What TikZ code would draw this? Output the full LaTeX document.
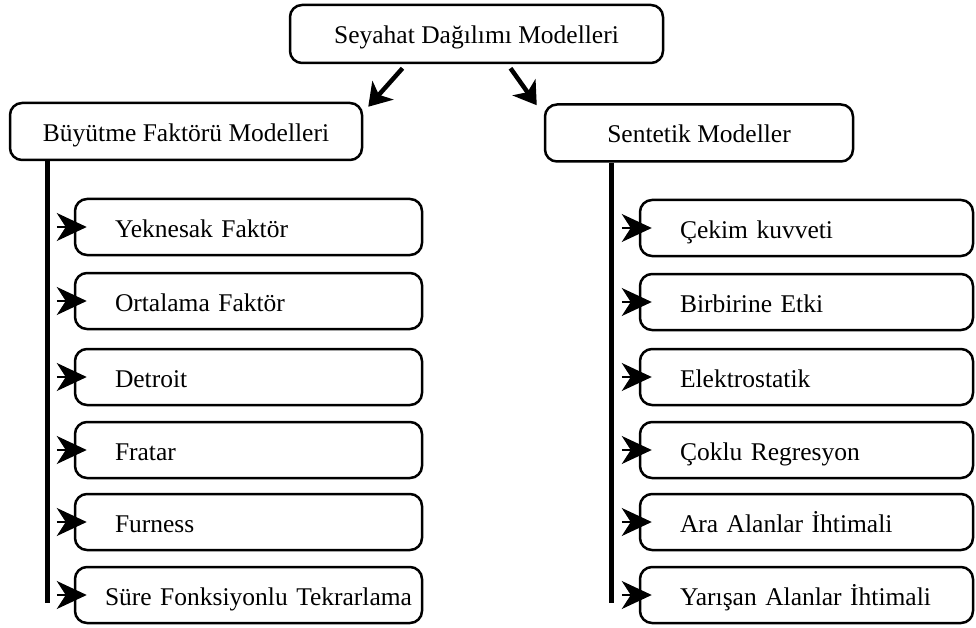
\documentclass[tikz,border=0pt]{standalone}
\usepackage{fontspec}
\setmainfont{Liberation Serif}
\usetikzlibrary{arrows.meta}

\begin{document}
\begin{tikzpicture}[x=1pt, y=-1pt,
  box/.style={draw, line width=2.5pt, rounded corners=12pt, fill=white, minimum height=56pt, text height=22pt, text depth=2pt, font=\fontsize{25.5}{30}\selectfont},
  lbox/.style={box, minimum width=347pt, text width=267pt, inner xsep=40pt, align=left},
  rbox/.style={box, minimum width=333pt, text width=253pt, inner xsep=40pt, align=left},
  trunk/.style={line width=5pt},
  tip/.style={line width=1.2pt, -{Stealth[length=30pt, width=28pt, inset=9pt]}},
  bigtip/.style={line width=4.5pt, -{Stealth[length=22pt, width=28pt, inset=6pt]}}]
\useasboundingbox (0,0) rectangle (976,628);

\node[box, minimum width=373pt, minimum height=58pt] (sdm) at (476.5,34) {Seyahat Dağılımı Modelleri};
\node[box, minimum width=352pt, minimum height=57pt] (bfm) at (186,131.5) {Büyütme Faktörü Modelleri};
\node[box, minimum width=308pt, minimum height=57pt] (sm) at (699,133) {Sentetik Modeller};

\draw[bigtip] ([xshift=-74pt,yshift=-4pt]sdm.south) -- ([xshift=5pt,yshift=-5pt]bfm.north east);
\draw[bigtip] ([xshift=34pt,yshift=-4pt]sdm.south) -- ([xshift=-7pt,yshift=-2pt]sm.north west);

\coordinate (lend) at (47,603);
\coordinate (rend) at (611,603);
\draw[trunk] (bfm.south -| lend) -- (lend);
\draw[trunk] (sm.south -| rend) -- (rend);

\node[lbox] (yf) at (248.5,227) {Yeknesak Faktör};
\node[lbox] (of) at (248.5,301) {Ortalama Faktör};
\node[lbox] (dt) at (248.5,377) {Detroit};
\node[lbox] (fr) at (248.5,450) {Fratar};
\node[lbox] (fu) at (248.5,522) {Furness};
\node[lbox, text width=327pt, inner xsep=10pt, align=right] (sf) at (248.5,595) {Süre Fonksiyonlu Tekrarlama};

\node[rbox] (ck) at (806.5,228) {Çekim kuvveti};
\node[rbox] (be) at (806.5,302) {Birbirine Etki};
\node[rbox] (el) at (806.5,377) {Elektrostatik};
\node[rbox] (cr) at (806.5,450) {Çoklu Regresyon};
\node[rbox] (aa) at (806.5,522) {Ara Alanlar İhtimali};
\node[rbox] (ya) at (806.5,595) {Yarışan Alanlar İhtimali};

\foreach \n in {yf,of,dt,fr,fu,sf,ck,be,el,cr,aa,ya}
  \draw[tip] ([xshift=-17pt]\n.west) -- ([xshift=13pt]\n.west);

\end{tikzpicture}
\end{document}
